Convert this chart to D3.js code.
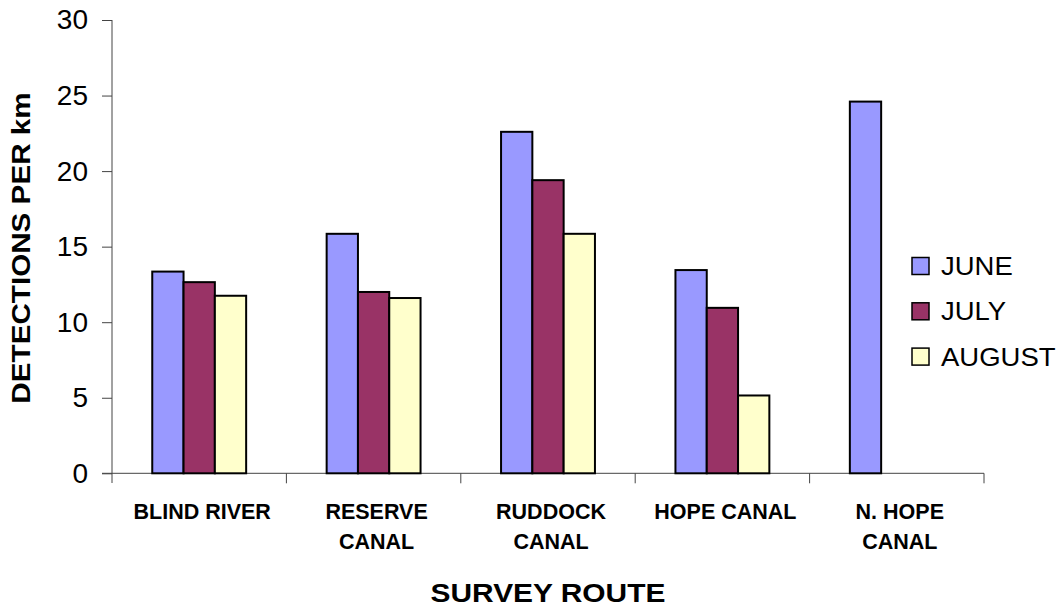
<!DOCTYPE html>
<html><head><meta charset="utf-8">
<script src="https://cdn.jsdelivr.net/npm/d3@7"></script>
<style>body{margin:0;background:#fff}svg{display:block;font-family:Arial,"Liberation Sans",sans-serif}</style>
</head><body><svg id="c" width="1063" height="607"></svg>
<script>
const categories = [["BLIND RIVER"], ["RESERVE","CANAL"], ["RUDDOCK","CANAL"], ["HOPE CANAL"], ["N. HOPE","CANAL"]];
const series = ["JUNE", "JULY", "AUGUST"];
const june   = [13.35, 15.85, 22.6, 13.45, 24.6];
const july   = [12.65, 12.0, 19.4, 10.95, null];
const august = [11.75, 11.6, 15.85, 5.15, null];
const colors = ["#9999FF", "#993366", "#FFFFCC"];
const yTicks = [0, 5, 10, 15, 20, 25, 30];

const values = [june, july, august];
const svg = d3.select("#c");
const catKeys = categories.map(c => c.join(" "));
const x = d3.scaleBand().domain(catKeys).range([112, 984]).padding(0);
const xs = d3.scaleBand().domain(series).range([0, x.bandwidth()]).paddingInner(0).paddingOuter(1.286);
const y = d3.scaleLinear().domain([0, 30]).range([473.3, 20]);

function stretch(sel, k) {
  sel.each(function () {
    const w = this.getComputedTextLength();
    d3.select(this).attr("textLength", w * k).attr("lengthAdjust", "spacingAndGlyphs");
  });
}

// Y axis
const ya = svg.append("g").attr("transform", "translate(112,0)")
  .call(d3.axisLeft(y).tickValues(yTicks).tickSize(10).tickPadding(14).tickFormat(d3.format("d")));
ya.select(".domain").attr("stroke", "#444").attr("d", `M0,${y(30)}V483`);
ya.selectAll(".tick line").attr("stroke", "#444");
ya.selectAll(".tick text").attr("font-size", 28).attr("fill", "#000")
  .attr("font-family", "Arial, 'Liberation Sans', sans-serif");

// X axis line & ticks
svg.append("line").attr("x1", 102).attr("x2", 984).attr("y1", y(0)).attr("y2", y(0)).attr("stroke", "#444");
const edges = catKeys.map(k => x(k)).concat([x(catKeys[catKeys.length - 1]) + x.bandwidth()]);
svg.selectAll("line.xt").data(edges.slice(1)).join("line").attr("class", "xt")
  .attr("x1", d => d).attr("x2", d => d).attr("y1", y(0)).attr("y2", y(0) + 10).attr("stroke", "#444");

// Bars
const bars = [];
catKeys.forEach((c, i) => series.forEach((s, j) => {
  if (values[j][i] != null) bars.push({ c, s, v: values[j][i], col: colors[j] });
}));
svg.selectAll("rect.bar").data(bars).join("rect").attr("class", "bar")
  .attr("x", d => x(d.c) + xs(d.s)).attr("width", xs.bandwidth())
  .attr("y", d => y(d.v)).attr("height", d => y(0) - y(d.v))
  .attr("fill", d => d.col).attr("stroke", "#000").attr("stroke-width", 2);

// Category labels
const cl = svg.selectAll("text.cat").data(categories).join("text").attr("class", "cat")
  .attr("text-anchor", "middle").attr("font-weight", "bold").attr("font-size", 21.5);
cl.each(function (d, i) {
  const t = d3.select(this);
  d.forEach((line, li) => {
    t.append("tspan").attr("x", x(catKeys[i]) + x.bandwidth() / 2 + 3).attr("y", 519.3 + li * 30).text(line);
  });
});

// X title
svg.append("text").attr("x", 548).attr("y", 601.5).attr("text-anchor", "middle")
  .attr("font-weight", "bold").attr("font-size", 26).text("SURVEY ROUTE").call(stretch, 1.15);

// Y title
svg.append("text").attr("transform", "translate(30,248) rotate(-90)").attr("text-anchor", "middle")
  .attr("font-weight", "bold").attr("font-size", 26).text("DETECTIONS PER km").call(stretch, 1.14);

// Legend
const lg = svg.selectAll("g.lg").data(series).join("g").attr("class", "lg")
  .attr("transform", (d, i) => `translate(912,${266 + i * 45.3})`);
lg.append("rect").attr("x", 0).attr("y", -8.5).attr("width", 17).attr("height", 17)
  .attr("fill", (d, i) => colors[i]).attr("stroke", "#000").attr("stroke-width", 1.5);
lg.append("text").attr("x", 29).attr("y", 9).attr("font-size", 25).text(d => d).call(stretch, 1.1);
</script></body></html>
